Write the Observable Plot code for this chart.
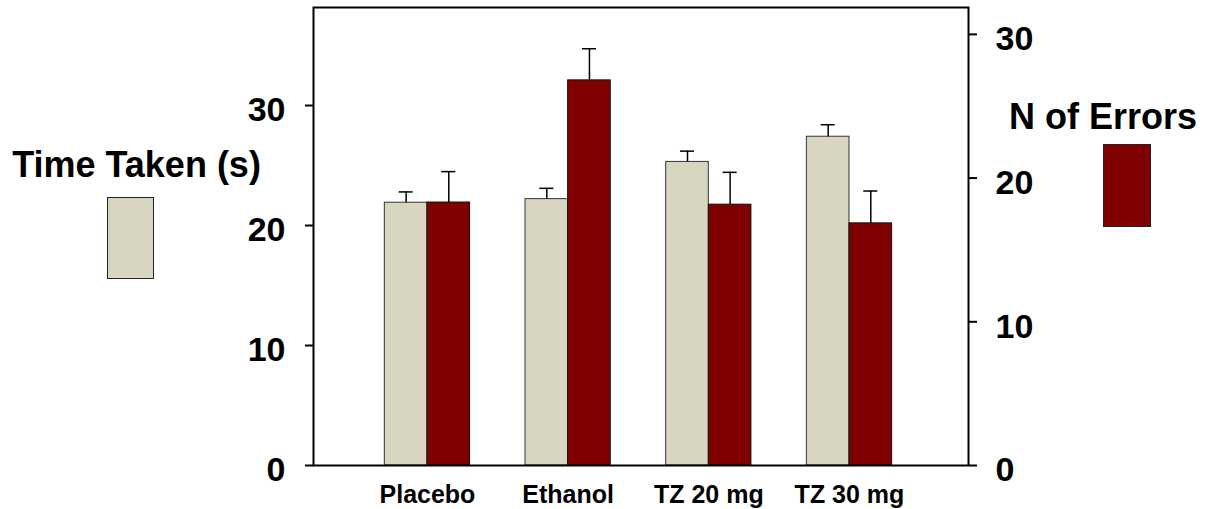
<!DOCTYPE html>
<html>
<head>
<meta charset="utf-8">
<script src="https://cdn.jsdelivr.net/npm/d3@7"></script>
<script src="https://cdn.jsdelivr.net/npm/@observablehq/plot@0.6"></script>
<style>
  html, body { margin: 0; padding: 0; background: #fff; overflow: hidden; }
  #wrap { position: relative; width: 1213px; height: 509px; font-family: "Liberation Sans", Arial, sans-serif; font-weight: bold; color: #000; }
  #wrap svg { position: absolute; left: 0; top: 0; }
  .lg-title { position: absolute; font-size: 36px; line-height: 36px; text-align: center; white-space: nowrap; }
  .lg-swatch { position: absolute; box-sizing: border-box; border: 1px solid #222; }
</style>
</head>
<body>
<div id="wrap"></div>
<script>
// ---- data ----
const categories = ["Placebo", "Ethanol", "TZ 20 mg", "TZ 30 mg"];
const timeTaken   = [21.9, 22.2, 25.3, 27.4];   // left axis (s)
const timeTakenSE = [0.9, 0.9, 0.9, 1.0];
const nErrors     = [18.3, 26.8, 18.15, 16.85]; // right axis
const nErrorsSE   = [2.15, 2.2, 2.25, 2.25];
const leftTicks  = [0, 10, 20, 30];
const rightTicks = [0, 10, 20, 30];

const seriesNames = ["Time Taken (s)", "N of Errors"];
const seriesColors = ["#d8d6c0", "#800000"];

// ---- scales ----
const leftMax = 38.17, rightMax = 31.87;
const k = leftMax / rightMax; // right-axis value -> left-axis units
const halfW = 0.303;          // bar width in category units

const rows = categories.map((c, i) => ({
  i, c,
  t: timeTaken[i], tse: timeTakenSE[i],
  e: nErrors[i], ese: nErrorsSE[i]
}));

const font = "Liberation Sans, Arial, sans-serif";
const chart = Plot.plot({
  width: 1213,
  height: 509,
  marginTop: 7,
  marginBottom: 44,
  marginLeft: 313,
  marginRight: 245,
  style: {fontFamily: font, fontWeight: "bold", background: "transparent", color: "#000"},
  x: {type: "linear", domain: [-0.81, 3.846]},
  y: {domain: [0, leftMax]},
  marks: [
    // light bars (Time Taken, left axis)
    Plot.rect(rows, {x1: d => d.i - halfW, x2: d => d.i, y1: 0, y2: d => d.t,
      fill: seriesColors[0], stroke: "#333", strokeWidth: 1}),
    // dark bars (N of Errors, right axis)
    Plot.rect(rows, {x1: d => d.i, x2: d => d.i + halfW, y1: 0, y2: d => d.e * k,
      fill: seriesColors[1], stroke: "#111", strokeWidth: 1}),
    // error bars
    Plot.ruleX(rows, {x: d => d.i - halfW / 2, y1: d => d.t, y2: d => d.t + d.tse, stroke: "#000", strokeWidth: 1.5}),
    Plot.ruleY(rows, {y: d => d.t + d.tse, x1: d => d.i - halfW / 2 - 0.05, x2: d => d.i - halfW / 2 + 0.05, stroke: "#000", strokeWidth: 1.5}),
    Plot.ruleX(rows, {x: d => d.i + halfW / 2, y1: d => d.e * k, y2: d => (d.e + d.ese) * k, stroke: "#000", strokeWidth: 1.5}),
    Plot.ruleY(rows, {y: d => (d.e + d.ese) * k, x1: d => d.i + halfW / 2 - 0.05, x2: d => d.i + halfW / 2 + 0.05, stroke: "#000", strokeWidth: 1.5}),
    // frame
    Plot.frame({stroke: "#000", strokeWidth: 2}),
    // left axis: ticks and labels
    Plot.axisY(leftTicks, {anchor: "left", tickSize: 8, strokeWidth: 2, tickFormat: () => "", label: null}),
    Plot.axisY(leftTicks, {anchor: "left", tickSize: 0, tickPadding: 28, dy: 5, fontSize: 34, fontWeight: "bold", tickFormat: d => String(d), label: null}),
    // right axis
    Plot.axisY(rightTicks, {anchor: "right", y: d => d * k, tickSize: 8, strokeWidth: 2, tickFormat: () => "", label: null}),
    Plot.axisY(rightTicks, {anchor: "right", y: d => d * k, tickSize: 0, tickPadding: 27, dy: 5, fontSize: 34, fontWeight: "bold", tickFormat: d => String(d), label: null}),
    // category axis
    Plot.axisX(categories.map((c, i) => i), {anchor: "bottom", tickSize: 0, tickPadding: 20, fontSize: 25, fontWeight: "bold", tickFormat: i => categories[i], label: null})
  ]
});

const wrap = document.getElementById("wrap");
wrap.appendChild(chart);

// legend
function addTitle(text, center, top) {
  const d = document.createElement("div");
  d.className = "lg-title";
  d.textContent = text;
  Object.assign(d.style, {left: (center - 150) + "px", width: "300px", top: top + "px"});
  wrap.appendChild(d);
}
function addSwatch(color, left, top, w, h) {
  const d = document.createElement("div");
  d.className = "lg-swatch";
  Object.assign(d.style, {left: left + "px", top: top + "px", width: w + "px", height: h + "px", background: color});
  wrap.appendChild(d);
}
addTitle(seriesNames[0], 136.5, 146.5);
addSwatch(seriesColors[0], 107, 197, 47, 82);
addTitle(seriesNames[1], 1103, 99);
addSwatch(seriesColors[1], 1103, 144, 48, 83);
</script>
</body>
</html>
